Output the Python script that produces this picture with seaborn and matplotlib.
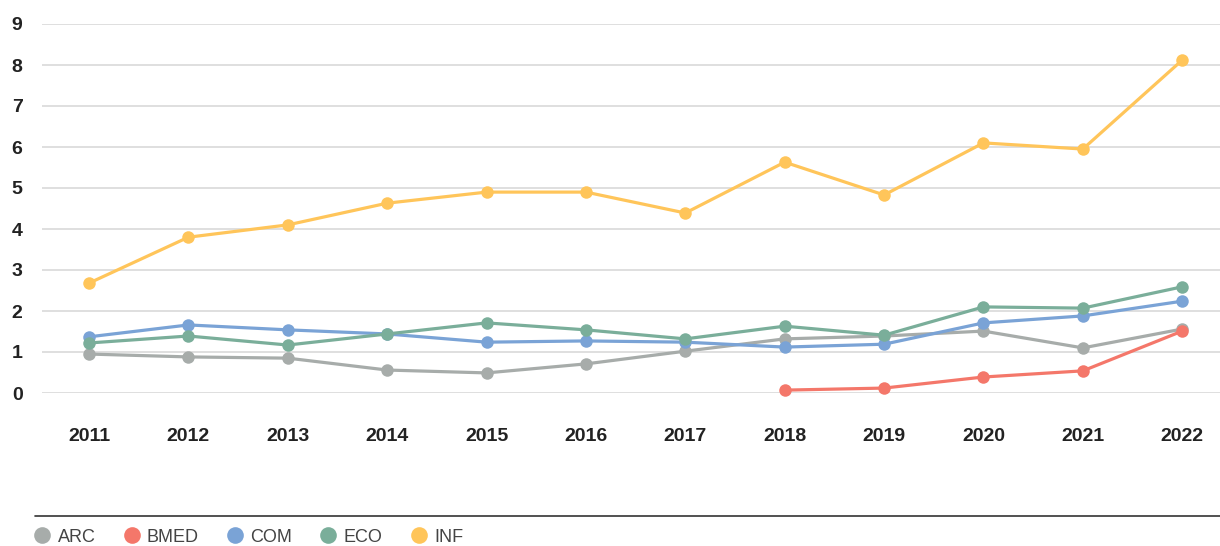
import pandas as pd
import matplotlib.pyplot as plt
import matplotlib.lines as mlines
import seaborn as sns

years = [2011, 2012, 2013, 2014, 2015, 2016, 2017, 2018, 2019, 2020, 2021, 2022]
arc = [0.95, 0.88, 0.85, 0.56, 0.49, 0.71, 1.02, 1.32, 1.39, 1.51, 1.10, 1.56]
bmed = [None, None, None, None, None, None, None, 0.07, 0.12, 0.39, 0.54, 1.51]
com = [1.37, 1.66, 1.54, 1.44, 1.24, 1.27, 1.24, 1.12, 1.19, 1.71, 1.88, 2.24]
eco = [1.22, 1.39, 1.17, 1.44, 1.71, 1.54, 1.32, 1.63, 1.41, 2.10, 2.07, 2.59]
inf = [2.68, 3.80, 4.10, 4.63, 4.90, 4.90, 4.39, 5.63, 4.83, 6.10, 5.95, 8.12]

series = {"ARC": arc, "BMED": bmed, "COM": com, "ECO": eco, "INF": inf}
colors = {"ARC": "#a7acaa", "BMED": "#f4776a", "COM": "#7aa3d6",
          "ECO": "#7aae9a", "INF": "#ffc55a"}

rows = []
for name, vals in series.items():
    for i, v in enumerate(vals):
        if v is not None:
            rows.append({"pos": i, "year": years[i], "value": v, "group": name})
df = pd.DataFrame(rows)

sns.set_theme(style="white")
plt.rcParams["font.family"] = ["Liberation Sans", "DejaVu Sans"]

fig = plt.figure(figsize=(12.2, 5.46), dpi=100)
ax = fig.add_axes([42 / 1220, 1 - 393 / 546, 1 - 42 / 1220, (393 - 24) / 546])

sns.lineplot(data=df, x="pos", y="value", hue="group", palette=colors,
             marker="o", markersize=9, markeredgewidth=0, linewidth=2.3,
             legend=False, ax=ax)
for ln in ax.lines:
    ln.set_clip_on(False)

ax.set_xlim(-0.473, 11.38)
ax.set_ylim(0, 9)
ax.set_yticks(range(0, 10))
ax.set_xticks(range(len(years)))
ax.set_xticklabels([str(y) for y in years])
ax.yaxis.grid(True, color="#d9d9d9", linewidth=1.2)
ax.set_axisbelow(True)
for s in ax.spines.values():
    s.set_visible(False)
ax.tick_params(axis="both", length=0, labelsize=14, colors="#222222")
ax.tick_params(axis="x", pad=25)
ax.tick_params(axis="y", pad=14)
for lab in ax.get_xticklabels() + ax.get_yticklabels():
    lab.set_fontweight("bold")
ax.set_xlabel("")
ax.set_ylabel("")

# legend separator line
fig.add_artist(mlines.Line2D([35 / 1220, 1], [1 - 516 / 546, 1 - 516 / 546],
                             color="#333333", linewidth=1.2))

handles = [mlines.Line2D([], [], color=colors[k], marker="o", linestyle="",
                         markersize=12, markeredgewidth=0) for k in series]
leg = fig.legend(handles, list(series.keys()), loc="center left",
                 bbox_to_anchor=(26 / 1220, 1 - 537 / 546), ncol=5, frameon=False,
                 handletextpad=0.35, columnspacing=1.5, handlelength=1.0,
                 borderaxespad=0, prop={"size": 13})
for t in leg.get_texts():
    t.set_color("#444444")

fig.savefig("out.png", dpi=100)
